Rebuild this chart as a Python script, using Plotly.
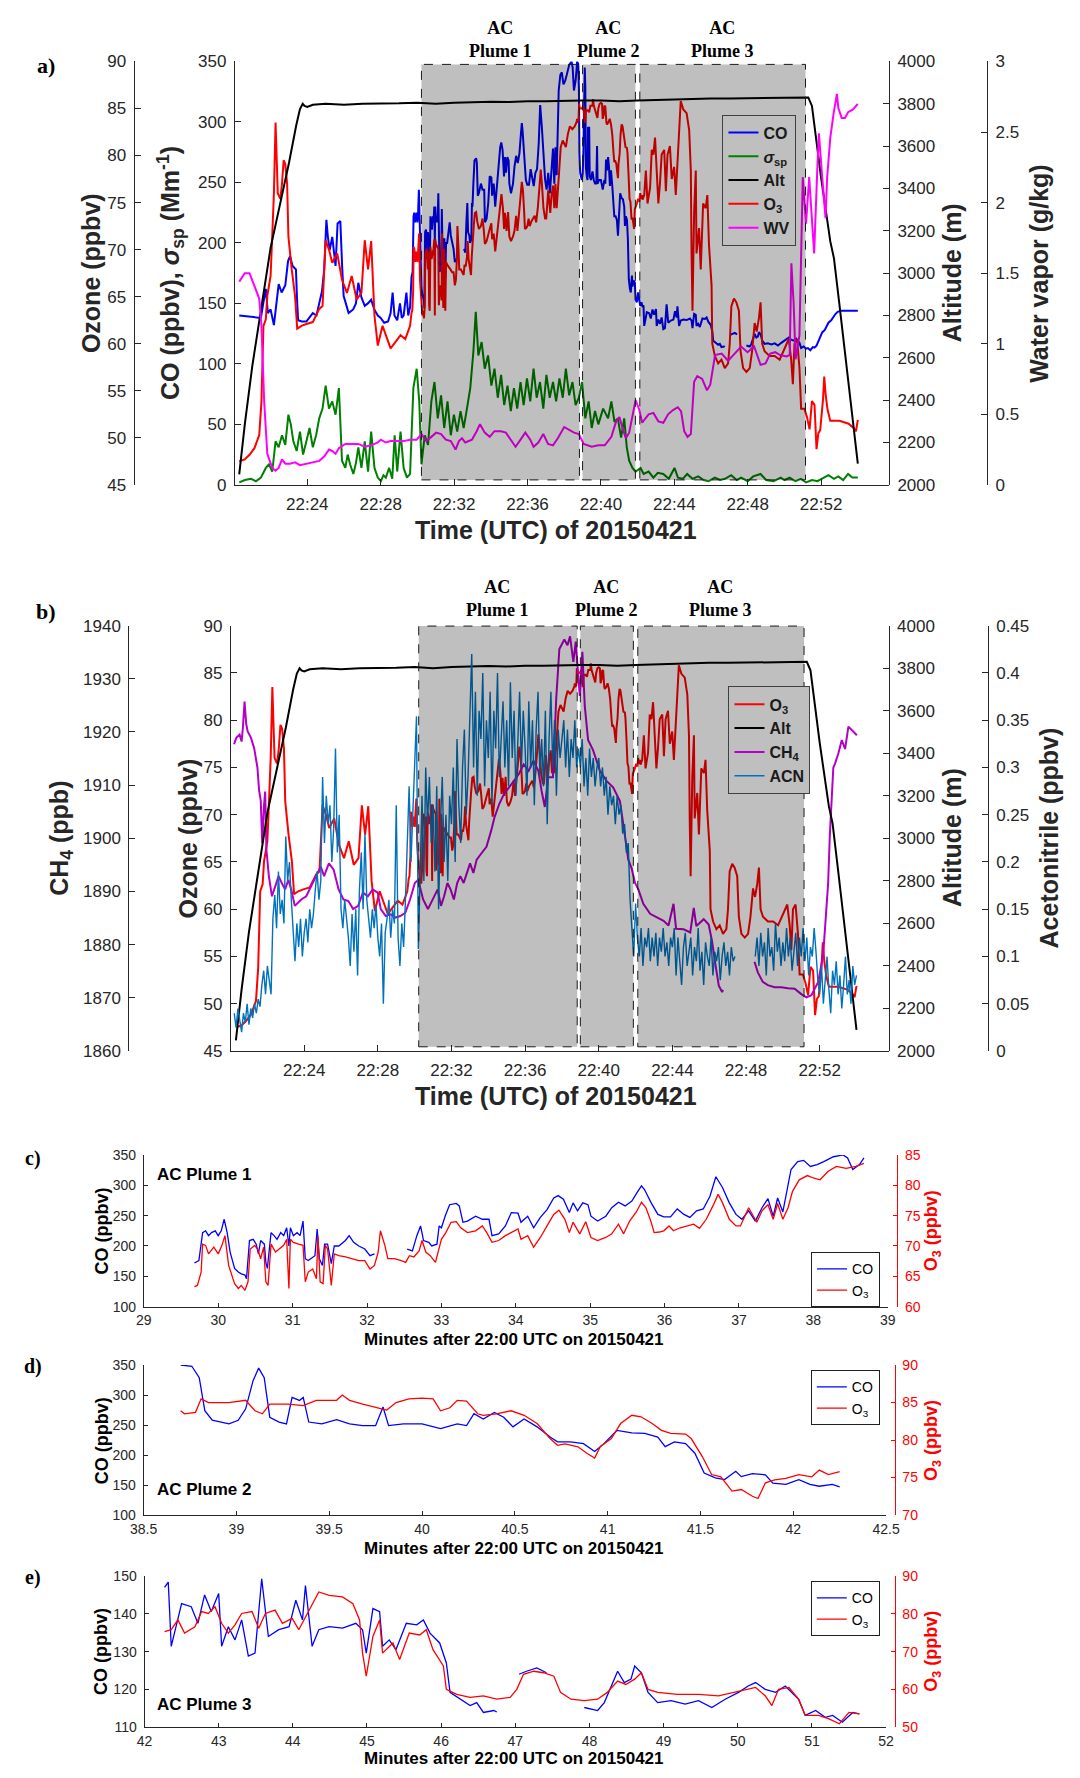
import plotly.graph_objects as go

W, H = 1080, 1778

# ------------------------------------------------------------------ data
# times are minutes after 22:00 UTC on 20150421
alt_pts = [(20.29,2050),(20.6,2290),(21.0,2560),(21.5,2850),(22.0,3120),(22.5,3320),(23.0,3520),(23.4,3700),
           (23.6,3775),(23.75,3800),(23.85,3790),(24.0,3785),(24.3,3795),(25.0,3800),(26.0,3795),(27.0,3800),
           (28.0,3800),(29.0,3802),(30.0,3805),(31.0,3800),(32.0,3805),(33.0,3808),(34.0,3810),(35.0,3808),
           (36.0,3812),(37.0,3812),(38.0,3815),(39.0,3815),(40.0,3815),(41.0,3812),(42.0,3815),(43.0,3818),
           (44.0,3822),(45.0,3822),(46.0,3825),(47.0,3825),(48.0,3826),(49.0,3828),(50.0,3828),(51.0,3830),
           (51.3,3830),(51.5,3790),(52.0,3450),(52.5,3150),(52.7,3070),(53.0,2850),(53.5,2480),(54.0,2100)]

co_pts = [(20.29,140),(20.8,139),(21.47,138),(21.6,150),(21.74,162),(21.85,142),(22.0,145),(22.18,132),(22.3,150),
          (22.44,166),(22.6,159),(22.8,165),(22.95,185),(23.06,189),(23.2,181),(23.38,178),(23.45,150),(23.5,136),
          (23.7,135),(23.95,135),(24.1,138),(24.3,142),(24.5,140),(24.65,151),(24.8,160),(24.92,178),(25.04,219),
          (25.12,205),(25.22,194),(25.36,205),(25.45,190),(25.54,181),(25.65,216),(25.8,218),(25.9,180),(25.98,156),
          (26.1,150),(26.25,142),(26.5,145),(26.65,150),(26.78,167),(26.95,155),(27.13,148),(27.3,150),(27.48,153),
          (27.65,145),(27.84,140),(28.0,138),(28.19,134),(28.4,135),(28.54,142),(28.65,159),(28.75,140),(28.9,136),
          (29.05,150),(29.15,138),(29.25,140),(29.4,159),(29.5,140),(29.6,147),
          (29.68,172),(29.74,176),(29.79,222),(29.83,225),(29.87,217),(29.91,222),(29.96,225),(30.0,217),(30.04,225),
          (30.08,244),(30.12,222),(30.16,190),(30.22,163),(30.27,157),(30.31,154),(30.36,152),(30.38,146),(30.4,182),
          (30.42,209),(30.47,211),(30.51,203),(30.54,187),(30.57,209),(30.62,203),(30.64,173),(30.66,163),(30.71,222),
          (30.75,217),(30.79,211),(30.84,222),(30.88,217),(30.92,230),(30.95,200),(30.97,230),(31.01,217),(31.06,222),
          (31.1,217),(31.14,241),(31.17,179),(31.21,176),(31.25,179),(31.3,184),(31.33,228),(31.36,179),(31.4,168),
          (31.43,203),(31.47,203),(31.52,171),(31.56,200),(31.62,200),(31.71,209),(31.76,217),(31.82,206),(31.89,200),
          (31.97,195),(32.04,184),(32.1,187),(32.3,None),(32.54,195),(32.61,192),(32.67,217),(32.72,233),(32.76,209),
          (32.83,206),(32.87,200),(32.94,203),(32.97,233),(33.0,230),(33.05,249),(33.11,268),(33.2,270),(33.24,266),
          (33.29,239),(33.35,241),(33.46,249),(33.55,244),(33.64,244),(33.68,217),(33.77,220),(33.86,233),(33.94,255),
          (34.03,254),(34.07,239),(34.16,249),(34.24,230),(34.33,247),(34.42,260),(34.51,279),(34.57,283),(34.64,277),
          (34.72,255),(34.77,271),(34.83,258),(34.9,271),(34.97,268),(35.01,249),(35.1,241),(35.21,249),(35.29,263),
          (35.38,272),(35.47,266),(35.56,274),(35.64,290),(35.69,299),(35.73,293),(35.82,271),(35.91,252),(35.99,248),
          (36.08,248),(36.17,261),(36.26,252),(36.34,247),(36.43,258),(36.52,261),(36.61,282),(36.69,314),(36.78,296),
          (36.87,271),(36.96,252),(37.04,244),(37.13,258),(37.22,241),(37.31,263),(37.39,278),(37.46,249),(37.52,279),
          (37.59,256),(37.66,304),(37.7,326),(37.79,339),(37.87,341),(37.96,331),(38.05,334),(38.14,339),(38.27,347),
          (38.4,350),(38.46,345),(38.53,326),(38.62,334),(38.68,345),
          (38.7,350),(38.76,348),(38.8,329),(38.83,274),(38.87,258),(38.96,252),(39.01,258),(39.05,277),(39.09,324),
          (39.12,345),(39.15,329),(39.18,263),(39.23,255),(39.27,252),(39.3,296),(39.34,291),(39.36,296),(39.39,255),
          (39.46,252),(39.54,259),(39.61,252),(39.68,249),(39.75,249),(39.79,280),(39.82,249),(39.9,252),(40.0,252),
          (40.1,244),(40.19,252),(40.24,249),(40.28,269),(40.33,260),(40.39,271),(40.44,263),(40.49,247),(40.55,260),
          (40.62,247),(40.69,230),(40.73,222),(40.8,222),(40.87,219),(40.93,206),(40.98,219),(41.05,241),(41.13,237),
          (41.2,236),(41.27,230),(41.31,214),(41.36,222),(41.42,219),(41.47,203),(41.52,170),(41.58,162),(41.63,159),
          (41.69,173),(41.72,164),(41.78,169),(41.85,167),(41.89,153),(41.96,151),(42.03,159),(42.09,151),(42.14,148),
          (42.21,151),(42.25,147),
          (42.27,147),(42.32,148.4),(42.36,131.4),(42.45,138.4),(42.5,142.7),(42.63,141.9),(42.72,137.5),(42.81,145),
          (42.9,140.6),(43.0,145.4),(43.04,131.4),(43.13,136.6),(43.22,133.1),(43.31,138.4),(43.4,128.8),(43.49,129.6),
          (43.58,149.3),(43.67,134),(43.81,135.8),(43.95,136.6),(44.04,143.6),(44.13,138.4),(44.17,147.5),(44.26,131.4),
          (44.35,135.8),(44.49,136.6),(44.67,136.2),(44.85,137.5),(44.94,135.8),(44.99,129.6),(45.08,141.4),(45.17,140.6),
          (45.21,131.4),(45.3,133.1),(45.39,130.5),(45.53,137.5),(45.67,137.1),(45.76,138.4),(45.85,134.9),(45.98,132.3),
          (46.07,127),(46.12,119.2),(46.25,117.4),(46.39,115.7),(46.48,116.5),(46.57,113.9),(46.71,114.4),(46.75,114),
          (46.85,None),(47.05,124),(47.15,124.8),(47.29,125.7),(47.42,124.4),(47.6,None),(47.93,115.2),(48.11,114.4),
          (48.2,116.5),(48.29,120.9),(48.38,124.8),(48.47,121.8),(48.56,122.7),(48.61,126.2),(48.7,124.4),(48.79,119.2),
          (48.92,116.5),(49.1,117),(49.29,116.1),(49.47,117),(49.65,115.2),(49.83,117.4),(50.01,119.2),(50.14,120.9),
          (50.24,121.8),(50.37,120),(50.51,119.2),(50.64,120.9),(50.73,119.2),(50.82,117.4),(50.91,113.1),(51.05,114.4),
          (51.18,112.6),(51.28,113.1),(51.41,111.3),(51.55,113.9),(51.64,113.5),
          (51.75,115),(52.06,126),(52.2,128),(52.4,134),(52.55,136),(52.77,141),(52.9,143),(53.1,144),(53.5,144),(54.0,144)]

o3_pts = [(20.29,47.5),(20.59,47.7),(20.85,48.2),(21.12,48.9),(21.38,50.3),(21.5,53.8),(21.61,61.9),(21.74,62.6),
          (21.82,65.1),(22.0,67.2),(22.1,72),(22.18,76),(22.27,83.5),(22.33,80),(22.39,76),(22.53,75.4),(22.62,77),
          (22.71,79.5),(22.8,79.1),(22.9,77),(22.97,71.4),(23.15,67.9),(23.33,65.1),(23.45,61.6),(23.68,61.9),
          (23.95,62.1),(24.3,62.3),(24.65,63.7),(24.83,64),(25.0,71),(25.18,70),(25.36,68.6),(25.63,69.6),(25.89,66.8),
          (26.16,65.4),(26.42,67.2),(26.69,64.7),(26.95,65.4),(27.13,71),(27.31,67.9),(27.48,70.9),(27.66,63),
          (27.84,59.8),(28.1,61.9),(28.28,60.9),(28.54,59.5),(28.81,60.2),(29.08,60.9),(29.34,60.5),(29.6,61.9),
          (29.68,63.3),(29.72,63.5),(29.77,65.7),(29.79,70.3),(29.83,70.1),(29.87,68.7),(29.94,69.8),(30.0,68.7),
          (30.05,70.1),(30.09,71.7),(30.14,66.8),(30.18,65.2),(30.22,63.8),(30.27,63),(30.31,63.5),(30.36,62.7),
          (30.4,64.1),(30.43,69.5),(30.49,70.1),(30.53,69.5),(30.57,67.9),(30.61,69.8),(30.64,64.1),(30.67,63.5),
          (30.71,70.3),(30.77,69),(30.82,69.5),(30.88,70.1),(30.92,71.1),(30.95,63),(30.97,71.1),(31.01,70.6),
          (31.08,70.3),(31.14,70.1),(31.17,64.1),(31.21,65.7),(31.27,66.2),(31.32,64.6),(31.34,71.7),(31.37,64.1),
          (31.41,63.8),(31.44,70.1),(31.47,69.5),(31.52,63.5),(31.56,68.7),(31.62,68.4),(31.71,68.2),(31.8,67.9),
          (31.89,67.6),(31.97,67.6),(32.04,66.2),(32.1,66.8),(32.15,69),(32.18,72.5),(32.24,70.1),(32.28,67.9),
          (32.37,67.9),(32.46,67.6),(32.52,67.3),(32.57,68.4),(32.63,68.2),(32.7,69.2),(32.74,70.9),(32.79,69),
          (32.85,68.4),(32.92,67.3),(32.96,69.2),(33.0,71.1),(33.06,72.2),(33.13,73.9),(33.2,74),(33.26,73),
          (33.35,72.2),(33.46,72.5),(33.55,73.3),(33.61,72.2),(33.68,70.6),(33.77,70.9),(33.86,71.7),(33.94,72.2),
          (34.03,72.8),(34.07,71.1),(34.16,71.7),(34.24,69.8),(34.33,71.4),(34.42,73.3),(34.51,75.2),(34.58,75.9),
          (34.66,74.4),(34.72,72.2),(34.77,73.9),(34.86,72),(34.94,74),(35.01,71.4),(35.1,70.9),(35.21,71.4),
          (35.29,72),(35.38,73.6),(35.45,72),(35.53,74.1),(35.62,75.6),(35.69,77.2),(35.75,76.3),(35.82,73.9),
          (35.86,72.2),(35.93,72.3),(35.99,72.5),(36.06,73.3),(36.12,72.5),(36.21,73),(36.3,73.3),(36.39,73.6),
          (36.47,72.9),(36.56,74.4),(36.65,76.6),(36.72,78.5),(36.78,77.1),(36.87,74.4),(36.96,73.3),(37.02,73.3),
          (37.13,76.3),(37.24,73.9),(37.31,75.8),(37.39,76.8),(37.46,74.4),(37.52,77),(37.59,74.4),(37.66,76.3),
          (37.72,79),(37.81,80.9),(37.92,81.6),(38.0,81.2),(38.09,80.9),(38.2,82.3),(38.31,83.1),(38.44,82.8),
          (38.57,83.1),(38.68,83.6),
          (38.7,83.9),(38.72,83.5),(38.78,83.7),(38.81,85.5),(38.85,85),(38.96,85),(39.05,85.3),(39.1,83.9),
          (39.14,83.5),(39.18,84.8),(39.28,84.8),(39.36,84.6),(39.43,85.3),(39.54,85.3),(39.57,86),(39.61,85.3),
          (39.68,84.8),(39.75,84.4),(39.81,84),(39.86,85),(39.93,85.5),(40.0,85.6),(40.06,85.5),(40.1,83.9),
          (40.15,84.3),(40.19,85.3),(40.24,85.2),(40.3,83.5),(40.33,83.3),(40.4,83.5),(40.48,83.9),(40.55,83.3),
          (40.62,82.2),(40.69,80.2),(40.73,79.3),(40.77,79.5),(40.84,79.1),(40.89,78.2),(40.93,77.6),(40.96,79.1),
          (41.02,80.2),(41.07,82.2),(41.13,83.3),(41.18,83.1),(41.24,82.2),(41.29,81.3),(41.34,80.9),(41.42,80.8),
          (41.45,80.2),(41.51,77.8),(41.56,75.4),(41.61,75.1),(41.67,73.2),(41.72,73.4),(41.78,72.5),(41.81,72.2),
          (41.85,74.3),(41.9,74.7),(41.96,74.9),(42.03,75.4),(42.1,75.1),(42.14,76),(42.19,75.4),(42.25,75.8),
          (42.27,75.3),(42.36,75.8),(42.45,78.4),(42.54,74.9),(42.68,76.6),(42.77,80.6),(42.86,80.1),(42.95,81.9),
          (43.04,77.5),(43.13,74.9),(43.22,77.1),(43.31,80.1),(43.45,80.6),(43.54,76.2),(43.63,80.1),(43.76,81),
          (43.86,77.5),(43.99,78.8),(44.08,75.8),(44.17,79.2),(44.26,82.7),(44.35,85.8),(44.49,84.9),(44.67,84.5),
          (44.81,82.7),(44.9,78.4),(44.94,69.6),(44.99,63.5),(45.08,74),(45.17,78.4),(45.21,69.6),(45.35,72.3),
          (45.44,67.9),(45.57,74.9),(45.71,74.4),(45.8,75.8),(45.89,70.5),(46.03,66.2),(46.07,60),(46.21,58.7),
          (46.39,57.9),(46.57,58.3),(46.75,57.4),(46.93,57.9),(47.02,60),(47.11,64),(47.25,64.8),(47.38,64.4),
          (47.52,63.5),(47.61,59.2),(47.75,57.4),(47.93,57),(48.11,57.4),(48.24,59.2),(48.38,62.2),(48.49,61.3),
          (48.61,62.7),(48.7,64.4),(48.79,60),(48.92,59.2),(49.19,58.7),(49.47,58.7),(49.74,58.3),(49.95,59.2),
          (50.1,60),(50.24,60.5),(50.37,58.3),(50.46,55.7),(50.55,60),(50.69,60.5),(50.82,57.4),(50.91,53.1),
          (51.09,53.1),(51.23,52.2),(51.37,50.9),(51.5,53.9),(51.64,53.5),
          (51.75,48.8),(51.85,50.5),(51.95,50.8),(52.1,54),(52.17,56.5),(52.25,54.5),(52.35,53),(52.5,51.8),
          (53.0,51.8),(53.5,51.5),(53.8,51.0),(53.9,50.7),(54.0,51.9)]

sp_pts = [(20.29,2),(20.6,4),(20.94,5),(21.2,3),(21.47,6),(21.74,14),(21.91,17),(22.09,11),(22.27,36),(22.44,31),
          (22.62,41),(22.8,33),(22.97,58),(23.1,50),(23.24,36),(23.42,28),(23.6,44),(23.77,25),(23.95,36),(24.12,47),
          (24.3,31),(24.48,41),(24.65,55),(24.83,63),(25.0,82),(25.18,63),(25.36,69),(25.54,58),(25.72,80),(25.89,20),
          (26.07,14),(26.2,25),(26.33,17),(26.51,9),(26.65,18),(26.78,31),(26.95,14),(27.13,36),(27.31,11),(27.48,44),
          (27.66,14),(27.84,6),(28.01,3),(28.15,8),(28.28,6),(28.46,14),(28.63,5),(28.76,41),(28.9,11),(29.08,44),
          (29.25,14),(29.43,6),(29.6,9),(29.78,80),(29.96,96),(30.1,69),(30.22,17),(30.4,41),(30.58,33),(30.76,69),
          (30.93,85),(31.11,55),(31.29,74),(31.46,47),(31.64,69),(31.82,41),(31.99,58),(32.17,44),(32.35,61),(32.52,47),
          (32.7,63),(32.88,80),(33.05,110),(33.18,143),(33.32,107),(33.5,118),(33.67,96),(33.85,107),(34.03,82),
          (34.2,96),(34.38,72),(34.56,91),(34.73,66),(34.91,82),(35.09,61),(35.26,80),(35.44,63),(35.62,85),(35.79,66),
          (35.97,88),(36.15,69),(36.33,96),(36.5,72),(36.68,85),(36.86,63),(37.03,91),(37.21,72),(37.39,85),(37.56,69),
          (37.74,88),(37.92,72),(38.09,96),(38.27,74),(38.45,85),(38.62,66),(38.8,72),(38.97,85),(39.15,55),(39.33,69),
          (39.5,47),(39.68,61),(39.86,50),(40.12,63),(40.39,55),(40.57,69),(40.74,52),(40.92,55),(41.1,39),(41.27,55),
          (41.41,31),(41.54,20),(41.72,14),(41.89,11),(42.16,14),(42.33,9),(42.6,11),(42.86,6),(43.1,10),(43.4,9),
          (43.7,5),(44.01,14),(44.2,6),(44.46,5),(44.7,9),(44.99,5),(45.3,7),(45.6,4),(45.87,3),(46.2,6),(46.5,4),
          (46.76,5),(47.1,8),(47.4,4),(47.64,6),(48.0,3),(48.3,7),(48.7,9),(49.0,4),(49.41,3),(49.8,6),(50.0,4),
          (50.29,6),(50.6,3),(50.9,5),(51.18,2),(51.5,4),(51.8,3),(52.06,5),(52.4,8),(52.7,5),(52.94,7),(53.2,4),
          (53.47,9),(53.7,6),(54.0,6)]

wv_pts = [(20.29,1.44),(20.59,1.50),(20.85,1.50),(21.12,1.41),(21.38,1.32),(21.5,1.13),(21.65,0.59),(21.82,0.22),
          (22.09,0.12),(22.27,0.10),(22.44,0.12),(22.62,0.18),(22.8,0.15),(23.06,0.15),(23.33,0.16),(23.6,0.14),
          (23.95,0.15),(24.3,0.16),(24.65,0.17),(24.92,0.20),(25.18,0.25),(25.36,0.24),(25.54,0.22),(25.72,0.26),
          (26.07,0.29),(26.42,0.29),(26.78,0.29),(27.13,0.27),(27.48,0.28),(27.84,0.30),(28.01,0.32),(28.28,0.30),
          (28.54,0.31),(28.9,0.31),(29.25,0.31),(29.6,0.32),(29.96,0.32),(30.22,0.36),(30.49,0.31),(30.76,0.34),
          (31.02,0.37),(31.29,0.36),(31.55,0.32),(31.82,0.31),(32.08,0.25),(32.26,0.31),(32.43,0.33),(32.61,0.30),
          (32.97,0.32),(33.23,0.38),(33.41,0.43),(33.67,0.37),(33.94,0.34),(34.2,0.38),(34.56,0.38),(34.82,0.37),
          (35.09,0.32),(35.35,0.27),(35.62,0.32),(35.88,0.37),(36.15,0.32),(36.33,0.27),(36.59,0.30),(36.86,0.36),
          (37.12,0.29),(37.39,0.28),(37.65,0.33),(38.0,0.41),(38.27,0.39),(38.54,0.37),(38.8,0.36),(39.06,0.29),
          (39.5,0.27),(39.86,0.28),(40.21,0.28),(40.57,0.34),(40.83,0.45),(41.01,0.48),(41.18,0.40),(41.36,0.33),
          (41.54,0.37),(41.72,0.50),(41.89,0.60),(42.07,0.54),(42.25,0.44),(42.42,0.47),(42.6,0.50),(42.86,0.51),
          (43.13,0.45),(43.4,0.44),(43.66,0.50),(43.93,0.53),(44.19,0.55),(44.37,0.52),(44.54,0.38),(44.72,0.34),
          (44.9,0.36),(45.08,0.73),(45.25,0.77),(45.52,0.75),(45.78,0.67),(45.96,0.71),(46.22,0.92),(46.58,0.93),
          (46.93,0.88),(47.29,0.93),(47.64,0.98),(47.99,0.94),(48.35,0.98),(48.7,0.85),(48.97,0.86),(49.23,0.93),
          (49.5,0.94),(49.76,0.92),(50.11,0.91),(50.29,0.92),(50.38,1.57),(50.5,1.29),(50.61,0.89),(50.82,1.06),
          (51.0,2.18),(51.18,1.85),(51.35,2.18),(51.49,1.90),(51.62,1.64),(51.79,2.23),(51.88,2.49),(52.06,2.18),
          (52.24,1.89),(52.33,2.18),(52.5,2.46),(52.68,2.63),(52.77,2.71),(52.86,2.77),(52.94,2.67),(53.12,2.60),
          (53.3,2.60),(53.47,2.64),(53.74,2.66),(54.0,2.70)]

ch4_pts = [(20.19,1917.7),(20.31,1918.9),(20.49,1919.5),(20.6,1918.2),(20.67,1920.8),(20.76,1925.7),(20.85,1921.5),
           (20.93,1920.1),(21.11,1918.9),(21.28,1917),(21.46,1913.3),(21.55,1909),(21.64,1907.1),(21.72,1899.1),
           (21.81,1905.9),(21.88,1908.8),(21.95,1897.8),(22.08,1892.9),(22.25,1889.1),(22.43,1891),(22.61,1892.9),
           (22.78,1891.6),(22.96,1890.4),(23.14,1892.2),(23.31,1890.2),(23.49,1887.3),(23.66,1887.9),(23.84,1888.5),
           (24.11,1889.1),(24.37,1891),(24.63,1892.9),(24.9,1894.7),(25.08,1892.9),(25.34,1895.3),(25.6,1894.1),
           (25.87,1890.4),(26.13,1888.5),(26.4,1888.2),(26.66,1886.7),(26.93,1887.3),(27.19,1889.8),(27.46,1889.1),
           (27.72,1890.4),(27.99,1889.8),(28.16,1886.7),(28.43,1885.4),(28.69,1885.7),(28.96,1885.1),(29.22,1885.4),
           (29.49,1886),(29.75,1888.5),(30.01,1891.6),(30.19,1892.2),(30.46,1888.5),(30.72,1886.7),(30.98,1888.5),
           (31.25,1890.4),(31.43,1887.3),(31.6,1889.1),(31.78,1891.6),(31.95,1890.4),(32.13,1888.5),(32.31,1891.6),
           (32.48,1892.9),(32.66,1891.6),(32.84,1893.5),(33.01,1895.3),(33.19,1893.5),(33.37,1896),(33.63,1897.2),
           (33.9,1898.4),(34.16,1901.5),(34.34,1904),(34.6,1906.5),(34.86,1908.4),(35.13,1909.6),(35.39,1910.8),
           (35.66,1912.1),(35.92,1913.9),(36.19,1912.7),(36.45,1914.6),(36.72,1912.7),(36.89,1909),(37.07,1905.9),
           (37.25,1911.5),(37.51,1911.5),(37.69,1926.3),(37.86,1935.6),(38.13,1937.4),(38.3,1936.3),(38.44,1938),
           (38.62,1933.2),(38.75,1937),(38.97,1926.8),(39.11,1935.1),(39.24,1924.9),(39.42,1918.5),(39.69,1916.6),
           (40.06,1912.7),(40.42,1910.8),(40.78,1909.6),(41.15,1907),(41.42,1900.5),(41.6,1896),(41.79,1894.3),
           (41.97,1891.6),(42.15,1890.4),(42.42,1887.7),(42.79,1885.8),(43.15,1885.2),(43.52,1884.5),(43.79,1883.6),
           (44.06,1887.7),(44.2,1883),(44.61,1882.9),(44.97,1882.3),(45.16,1886.9),(45.3,1883.5),(45.7,1884.8),
           (45.97,1883.8),(46.15,1880.7),(46.34,1876.2),(46.52,1872.3),(46.7,1871.1),(46.75,1871.5),(47.5,None),
           (48.46,1876.8),(48.64,1874.8),(48.91,1873),(49.18,1872.4),(49.55,1872),(49.91,1872),(50.28,1871.8),
           (50.64,1871.7),(51.0,1870.7),(51.28,1870.1),(51.55,1870.5),(51.92,1873),(52.19,1878.1),(52.37,1886.4),
           (52.46,1891.6),(52.55,1900.5),(52.64,1905.6),(52.74,1913.3),(52.83,1914),(53.01,1915.9),(53.2,1918.5),
           (53.38,1916.8),(53.56,1921),(53.84,1920),(54.02,1919.4)]

# acetonitrile, one row per minute, samples every 0.1 min
acn_first_minute = 20
acn_by_minute = [
    [None, None, .04, .025, .045, .03, .02, .04, .03, .05],
    [.028, .045, .035, .05, .04, .055, .047, .07, .085, .06],
    [.09, .075, .06, .14, .165, .13, .19, .145, .16, .135],
    [.227, .18, .2, .16, .12, .095, .135, .11, .14, .1],
    [.125, .14, .115, .15, .13, .145, .17, .19, .16, .18],
    [.29, .22, .27, .24, .26, .2, .235, .32, .21, .25],
    [.15, .13, .16, .14, .12, .09, .145, .105, .15, .08],
    [.17, .21, .15, .23, .16, .14, .12, .15, .13, .155],
    [.12, .1, .135, .05, .125, .14, .16, .12, .15, .135],
    [.26, .12, .09, .135, .11, .16, .23, .28, .2, .25],
    [.31, .354, .108, .2, .27, .18, .3, .24, .29, .22],
    [.26, .19, .28, .15, .24, .29, .2, .25, .18, .27],
    [.24, .3, .2, .33, .26, .22, .3, .34, .25, .29],
    [.35, .42, .3, .38, .27, .36, .33, .4, .28, .35],
    [.31, .38, .26, .36, .32, .4, .29, .34, .37, .3],
    [.35, .28, .39, .31, .36, .27, .33, .38, .3, .36],
    [.32, .27, .37, .3, .35, .26, .34, .38, .29, .33],
    [.28, .36, .24, .33, .38, .3, .35, .27, .34, .31],
    [.33, .35, .3, .34, .29, .33, .31, .35, .3, .32],
    [.3, .33, .28, .31, .27, .32, .29, .31, .28, .3],
    [.31, .28, .3, .27, .29, .25, .28, .26, .27, .24],
    [.27, .25, .26, .23, .24, .21, .22, .16, .13, .1],
    [.156, .12, .1, .13, .09, .12, .11, .13, .095, .12],
    [.1, .125, .09, .12, .105, .13, .1, .115, .09, .12],
    [.11, .13, .08, .12, .095, .07, .11, .125, .09, .105],
    [.12, .08, .11, .095, .13, .085, .105, .07, .115, .1],
    [.09, .12, .08, .105, .095, .11, .075, .1, .115, .09],
    [.105, .08, .11, .095, .1, None, None, None, None, None],
    [None, None, None, None, None, .1, .12, .09, .125, .1],
    [.115, .08, .13, .1, .11, .085, .135, .105, .12, .09],
    [.115, .095, .13, .1, .12, .085, .11, .125, .09, .12],
    [.1, .13, .095, .12, .08, .11, .1, .13, .105, .075],
    [.06, .09, .05, .08, .1, .065, .04, .085, .07, .095],
    [.06, .08, .045, .07, .1, .06, .075, .05, .09, .07],
    [.08],
]

time_tick_minutes = [24, 28, 32, 36, 40, 44, 48, 52]
time_tick_labels = ["22:24", "22:28", "22:32", "22:36", "22:40", "22:44", "22:48", "22:52"]
plume_bounds = [(30.22, 38.83), (39.0, 41.88), (42.12, 51.15)]
plume_labels = ["AC<br>Plume 1", "AC<br>Plume 2", "AC<br>Plume 3"]
zoom_windows = [(29.65, 38.69), (38.69, 42.26), (42.26, 51.7)]
zoom_labels = ["AC Plume 1", "AC Plume 2", "AC Plume 3"]

# ------------------------------------------------------------------ helpers
def unzip(pts):
    return [p[0] for p in pts], [p[1] for p in pts]

def window(pts, lo, hi):
    return unzip([p for p in pts if lo <= p[0] <= hi])

def px(x):
    return x / W

def py(y):
    return 1 - y / H

SANS = "Liberation Sans"
SERIF = "Liberation Serif"
AX = "#262626"

def ax(size=17, ticklen=6, color=AX, standoff=4, **kw):
    d = dict(showline=True, linecolor=color, linewidth=1, ticks="inside", ticklen=ticklen, tickwidth=1,
             tickcolor=color, showgrid=False, zeroline=False,
             tickfont=dict(family=SANS, size=size, color=color), ticklabelstandoff=standoff)
    d.update(kw)
    return d

alt_t, alt_v = unzip(alt_pts)
co_t, co_v = unzip(co_pts)
o3_t, o3_v = unzip(o3_pts)
sp_t, sp_v = unzip(sp_pts)
wv_t, wv_v = unzip(wv_pts)
ch4_t, ch4_v = unzip(ch4_pts)
acn_t, acn_v = [], []
for i, row in enumerate(acn_by_minute):
    for j, v in enumerate(row):
        acn_t.append(round(acn_first_minute + i + j * 0.1, 1))
        acn_v.append(v)

fig = go.Figure()
LW = 2.0

# ---------------- panel a
fig.add_trace(go.Scatter(x=sp_t, y=sp_v, mode="lines", name="<i>σ</i><sub>sp</sub>", line=dict(color="rgb(0,128,0)", width=LW),
                         xaxis="x", yaxis="y", legend="legend", legendrank=2))
fig.add_trace(go.Scatter(x=co_t, y=co_v, mode="lines", name="CO", line=dict(color="rgb(0,0,255)", width=LW),
                         xaxis="x", yaxis="y", legend="legend", legendrank=1))
fig.add_trace(go.Scatter(x=o3_t, y=o3_v, mode="lines", name="O<sub>3</sub>", line=dict(color="rgb(255,0,0)", width=LW),
                         xaxis="x", yaxis="y2", legend="legend", legendrank=4))
fig.add_trace(go.Scatter(x=alt_t, y=alt_v, mode="lines", name="Alt", line=dict(color="black", width=LW),
                         xaxis="x", yaxis="y3", legend="legend", legendrank=3))
fig.add_trace(go.Scatter(x=wv_t, y=wv_v, mode="lines", name="WV", line=dict(color="rgb(255,0,255)", width=LW),
                         xaxis="x", yaxis="y4", legend="legend", legendrank=5))

# ---------------- panel b
fig.add_trace(go.Scatter(x=o3_t, y=o3_v, mode="lines", name="O<sub>3</sub>", line=dict(color="rgb(255,0,0)", width=LW),
                         xaxis="x2", yaxis="y5", legend="legend2", legendrank=1))
fig.add_trace(go.Scatter(x=ch4_t, y=ch4_v, mode="lines", name="CH<sub>4</sub>", line=dict(color="rgb(180,0,200)", width=LW),
                         xaxis="x2", yaxis="y6", legend="legend2", legendrank=3))
fig.add_trace(go.Scatter(x=alt_t, y=alt_v, mode="lines", name="Alt", line=dict(color="black", width=LW),
                         xaxis="x2", yaxis="y7", legend="legend2", legendrank=2))
fig.add_trace(go.Scatter(x=acn_t, y=acn_v, mode="lines", name="ACN", line=dict(color="rgb(0,114,189)", width=1.4),
                         xaxis="x2", yaxis="y8", legend="legend2", legendrank=4))

# ---------------- panels c, d, e
zoom_axes = [("x3", "y9", "y10", "legend3"), ("x4", "y11", "y12", "legend4"), ("x5", "y13", "y14", "legend5")]
for (lo, hi), (xa, ya, yb, lg) in zip(zoom_windows, zoom_axes):
    t, v = window(co_pts, lo, hi)
    fig.add_trace(go.Scatter(x=t, y=v, mode="lines", name="CO", line=dict(color="rgb(0,0,255)", width=1.3),
                             xaxis=xa, yaxis=ya, legend=lg, legendrank=1))
    t, v = window(o3_pts, lo, hi)
    fig.add_trace(go.Scatter(x=t, y=v, mode="lines", name="O<sub>3</sub>", line=dict(color="rgb(255,0,0)", width=1.3),
                             xaxis=xa, yaxis=yb, legend=lg, legendrank=2))

# ------------------------------------------------------------------ axes
lay = dict(width=W, height=H, margin=dict(l=0, r=0, t=0, b=0), paper_bgcolor="white", plot_bgcolor="white")

lay["xaxis"] = ax(domain=[px(226.7), px(898.3)], range=[20.05, 55.7], anchor="y",
                  tickvals=time_tick_minutes, ticktext=time_tick_labels)
lay["yaxis"] = ax(domain=[py(481), py(53)], range=[0, 350], dtick=50, anchor="x")
lay["yaxis2"] = ax(overlaying="y", anchor="free", position=px(122.7), side="left", range=[45, 90], dtick=5)
lay["yaxis3"] = ax(overlaying="y", anchor="free", position=px(898.3), side="right", range=[2000, 4000], dtick=200)
lay["yaxis4"] = ax(overlaying="y", anchor="free", position=px(999), side="right", range=[0, 3], dtick=0.5)

lay["xaxis2"] = ax(domain=[px(222.7), px(898)], range=[20.02, 55.75], anchor="y5",
                   tickvals=time_tick_minutes, ticktext=time_tick_labels)
lay["yaxis5"] = ax(domain=[py(1053.3), py(623.3)], range=[45, 90], dtick=5, anchor="x2")
lay["yaxis6"] = ax(overlaying="y5", anchor="free", position=px(117.3), side="left", range=[1860, 1940], dtick=10)
lay["yaxis7"] = ax(overlaying="y5", anchor="free", position=px(898), side="right", range=[2000, 4000], dtick=200)
lay["yaxis8"] = ax(overlaying="y5", anchor="free", position=px(999.7), side="right", range=[0, 0.45], dtick=0.05)

RED = "rgb(255,0,0)"
small = dict(size=14, ticklen=4)
smallx = dict(size=14, ticklen=4, standoff=1)
lay["xaxis3"] = ax(domain=[px(133.3), px(897)], range=[29, 39], dtick=1, anchor="y9", **smallx)
lay["yaxis9"] = ax(domain=[py(1311.7), py(1158.3)], range=[100, 350], dtick=50, anchor="x3", **small)
lay["yaxis10"] = ax(overlaying="y9", anchor="free", position=px(906.7), side="right", range=[60, 85], dtick=5,
                    color=RED, **small)
lay["xaxis4"] = ax(domain=[px(133), px(895.3)], range=[38.5, 42.5], dtick=0.5, anchor="y11", **smallx)
lay["yaxis11"] = ax(domain=[py(1522.3), py(1370.7)], range=[100, 350], dtick=50, anchor="x4", **small)
lay["yaxis12"] = ax(overlaying="y11", anchor="free", position=px(904), side="right", range=[70, 90], dtick=5,
                    color=RED, **small)
lay["xaxis5"] = ax(domain=[px(134), px(895.3)], range=[42, 52], dtick=1, anchor="y13", **smallx)
lay["yaxis13"] = ax(domain=[py(1736.7), py(1584)], range=[110, 150], dtick=10, anchor="x5", **small)
lay["yaxis14"] = ax(overlaying="y13", anchor="free", position=px(904), side="right", range=[50, 90], dtick=10,
                    color=RED, **small)

# ------------------------------------------------------------------ legends
big_leg = dict(xanchor="left", yanchor="top", bgcolor="rgb(191,191,191)", bordercolor="#404040", borderwidth=1,
               font=dict(family=SANS, size=16, color="#1a1a1a", weight="bold"), tracegroupgap=0, itemwidth=30)
lay["legend"] = dict(x=px(727.3), y=py(106.7), **big_leg)
lay["legend2"] = dict(x=px(733.5), y=py(684.7), **big_leg)
small_leg = dict(xanchor="left", yanchor="top", bgcolor="white", bordercolor="#202020", borderwidth=1,
                 font=dict(family=SANS, size=14, color="black"), tracegroupgap=0, itemwidth=30)
lay["legend3"] = dict(x=px(818.3), y=py(1256.7), **small_leg)
lay["legend4"] = dict(x=px(818), y=py(1376), **small_leg)
lay["legend5"] = dict(x=px(818), y=py(1589.3), **small_leg)

fig.update_layout(**lay)

# ------------------------------------------------------------------ plume boxes
for (t0, t1) in plume_bounds:
    for xr, yr, b0, b1 in [("x", "y domain", 0.0117, 0.993), ("x2", "y5 domain", 0.01, 0.999)]:
        fig.add_shape(type="rect", xref=xr, yref=yr, x0=t0, x1=t1, y0=b0, y1=b1,
                      fillcolor="rgba(0,0,0,0.25)", line=dict(color="#1a1a1a", width=1, dash="dash"), layer="above")

# ------------------------------------------------------------------ annotations
ann = []
def text(x, y, s, size, color=AX, family=SANS, angle=0, xanchor="center", yanchor="middle", xref="paper", bold=True):
    ann.append(dict(x=x, y=y, xref=xref, yref="paper", text=s, showarrow=False, textangle=angle,
                    xanchor=xanchor, yanchor=yanchor,
                    font=dict(family=family, size=size, color=color, weight="bold" if bold else "normal")))

for (t0, t1), lab in zip(plume_bounds, plume_labels):
    text((t0 + t1) / 2, py(30.4), lab, 18, color="black", family=SERIF, xref="x")
    text((t0 + t1) / 2, py(596), lab, 18, color="black", family=SERIF, xref="x2")

text(px(33), py(57), "a)", 22, color="black", family=SERIF)
text(px(33), py(609), "b)", 22, color="black", family=SERIF)
text(px(19), py(1162), "c)", 20, color="black", family=SERIF)
text(px(20), py(1372), "d)", 20, color="black", family=SERIF)
text(px(20), py(1585), "e)", 20, color="black", family=SERIF)

# panel a titles
text(px(79), py(267), "Ozone (ppbv)", 25, angle=-90)
text(px(161), py(267), "CO (ppbv), <i>σ</i><sub>sp</sub> (Mm<sup>-1</sup>)", 25, angle=-90)
text(px(963), py(267), "Altitude (m)", 25, angle=-90)
text(px(1052), py(267), "Water vapor (g/kg)", 25, angle=-90)
text(px(556), py(527), "Time (UTC) of 20150421", 25)
# panel b titles
text(px(48), py(838), "CH<sub>4</sub> (ppb)", 25, angle=-90)
text(px(179), py(838), "Ozone (ppbv)", 25, angle=-90)
text(px(963), py(838), "Altitude (m)", 25, angle=-90)
text(px(1063), py(838), "Acetonitrile (ppbv)", 25, angle=-90)
text(px(556), py(1099), "Time (UTC) of 20150421", 25)

# panels c-e titles
for yc, yx, yl, lab in [(1235, 1345, 1178.3, zoom_labels[0]), (1447, 1556, 1496.7, zoom_labels[1]),
                        (1660, 1768, 1714, zoom_labels[2])]:
    text(px(90), py(yc), "CO (ppbv)", 18, color="black", angle=-90)
    text(px(943), py(yc), "O<sub>3</sub> (ppbv)", 18, color=RED, angle=-90)
    text(px(513), py(yx), "Minutes after 22:00 UTC on 20150421", 17, color="black")
    text(px(145), py(yl), lab, 17, color="black", xanchor="left")

fig.update_layout(annotations=ann)
fig.write_html("out.html")
